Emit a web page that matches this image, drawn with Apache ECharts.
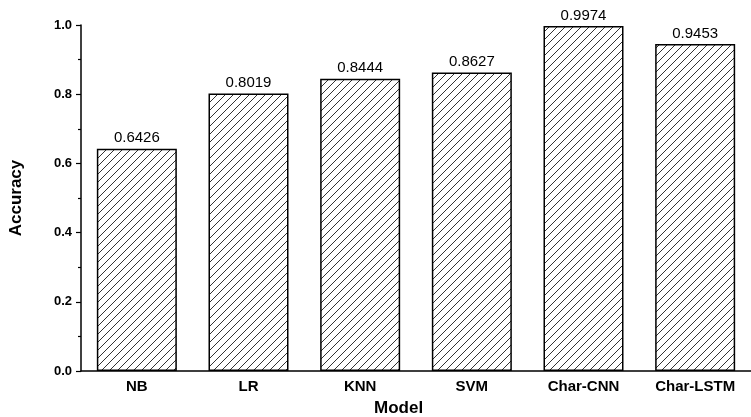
<!DOCTYPE html>
<html>
<head>
<meta charset="utf-8">
<script src="https://cdn.jsdelivr.net/npm/echarts@6/dist/echarts.min.js"></script>
<style>
  html, body { margin: 0; padding: 0; background: #fff; }
  #chart { width: 751px; height: 417px; }
</style>
</head>
<body>
<div id="chart"></div>
<script>
// Model names and their classification accuracy
const models = ['NB', 'LR', 'KNN', 'SVM', 'Char-CNN', 'Char-LSTM'];
const accuracy = [0.6426, 0.8019, 0.8444, 0.8627, 0.9974, 0.9453];

// Diagonal hatch tile ("/" lines) used as bar fill
function hatchTile() {
  const s = 8;
  const c = document.createElement('canvas');
  c.width = s; c.height = s;
  const g = c.getContext('2d');
  g.fillStyle = '#fff';
  g.fillRect(0, 0, s, s);
  g.strokeStyle = '#333';
  g.lineWidth = 1;
  g.beginPath();
  g.moveTo(0, s); g.lineTo(s, 0);
  g.moveTo(-s / 2, s / 2); g.lineTo(s / 2, -s / 2);
  g.moveTo(s / 2, s * 1.5); g.lineTo(s * 1.5, s / 2);
  g.stroke();
  return c;
}

const font = '"Liberation Sans", Arial, Helvetica, sans-serif';
const chart = echarts.init(document.getElementById('chart'), null, { renderer: 'canvas' });

chart.setOption({
  animation: false,
  backgroundColor: '#fff',
  textStyle: { fontFamily: font },
  grid: { left: 78, top: 25, width: 680, height: 346 },
  xAxis: {
    type: 'category',
    data: models,
    axisLine: { lineStyle: { color: '#000', width: 1.5 } },
    axisTick: { show: false },
    axisLabel: { color: '#000', fontWeight: 'bold', fontSize: 15, margin: 8, fontFamily: font }
  },
  yAxis: {
    type: 'value',
    min: 0, max: 1, interval: 0.2,
    name: 'Accuracy',
    nameLocation: 'middle',
    nameGap: 56,
    nameTextStyle: { color: '#000', fontWeight: 'bold', fontSize: 17, fontFamily: font },
    axisLine: { show: true, lineStyle: { color: '#000', width: 1.5 } },
    axisTick: { show: true, inside: false, length: 5, lineStyle: { color: '#000', width: 1.2 } },
    minorTick: { show: true, splitNumber: 2, length: 3, lineStyle: { color: '#000', width: 1.2 } },
    splitLine: { show: false },
    axisLabel: {
      color: '#000', fontWeight: 'bold', fontSize: 13, margin: 9, fontFamily: font,
      formatter: v => v.toFixed(1)
    }
  },
  graphic: [{
    type: 'text',
    left: 374, top: 400,
    style: { text: 'Model', font: 'bold 17px ' + font, fill: '#000' }
  }],
  series: [{
    type: 'bar',
    data: accuracy,
    barWidth: 80,
    itemStyle: {
      color: { image: hatchTile(), repeat: 'repeat' },
      borderColor: '#000',
      borderWidth: 1.5
    },
    label: {
      show: true,
      position: 'top',
      distance: 3,
      color: '#000',
      fontSize: 15,
      fontFamily: font,
      formatter: p => p.value.toFixed(4)
    }
  }]
});
</script>
</body>
</html>
